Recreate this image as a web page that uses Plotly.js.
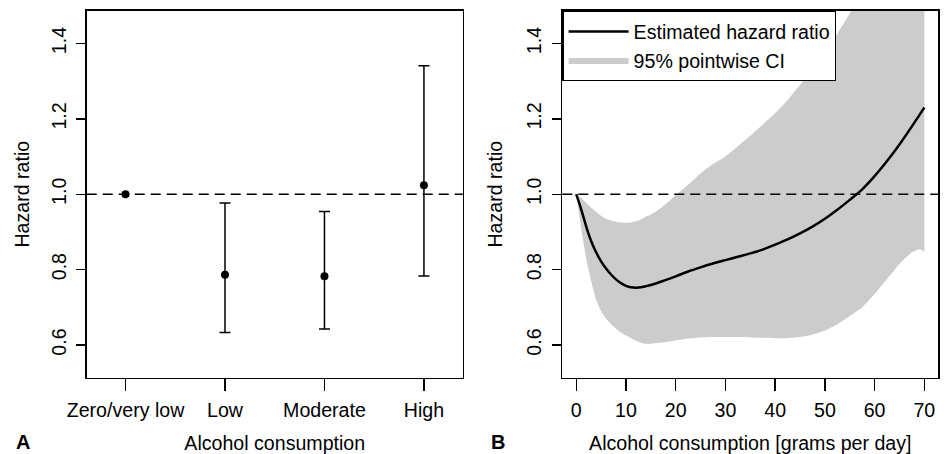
<!DOCTYPE html>
<html>
<head>
<meta charset="utf-8">
<script src="https://cdn.plot.ly/plotly-3.0.1.min.js"></script>
<style>
  html, body { margin: 0; padding: 0; background: #fff; }
  #chart { width: 949px; height: 454px; }
</style>
</head>
<body>
<div id="chart"></div>
<script>
// ---- Panel A data ----
const categories = ['Zero/very low', 'Low', 'Moderate', 'High'];
const hrCat = [1.0, 0.786, 0.782, 1.024];
const ciLowCat = [null, 0.633, 0.642, 0.783];
const ciHighCat = [null, 0.977, 0.954, 1.341];

// ---- Panel B data ----
const grams = [0, 1, 2, 3, 4, 5, 6, 7, 8, 9, 10, 11, 12, 13, 14, 15, 17.5, 20, 22.5, 25, 27.5, 30, 32.5, 35, 37.5, 40, 42.5, 45, 47.5, 50, 52.5, 55, 57.5, 60, 62.5, 65, 67.5, 69, 70];
const hrCurve = [1.0, 0.960, 0.915, 0.876, 0.846, 0.822, 0.803, 0.787, 0.774, 0.764, 0.757, 0.753, 0.752, 0.753, 0.756, 0.759, 0.770, 0.782, 0.795, 0.806, 0.816, 0.825, 0.834, 0.843, 0.853, 0.866, 0.880, 0.896, 0.914, 0.935, 0.959, 0.985, 1.013, 1.048, 1.088, 1.132, 1.180, 1.210, 1.230];
const ciUpper = [1.0, 0.990, 0.977, 0.965, 0.953, 0.943, 0.935, 0.930, 0.927, 0.925, 0.924, 0.925, 0.928, 0.933, 0.940, 0.946, 0.968, 0.997, 1.025, 1.055, 1.080, 1.100, 1.127, 1.155, 1.185, 1.215, 1.250, 1.290, 1.330, 1.375, 1.425, 1.480, 1.535, 1.590, 1.650, 1.710, 1.770, 1.805, 1.830];
const ciLower = [1.0, 0.910, 0.830, 0.770, 0.720, 0.690, 0.670, 0.655, 0.643, 0.633, 0.625, 0.618, 0.611, 0.606, 0.603, 0.603, 0.607, 0.612, 0.617, 0.620, 0.621, 0.621, 0.621, 0.620, 0.619, 0.618, 0.618, 0.621, 0.627, 0.638, 0.655, 0.677, 0.700, 0.735, 0.775, 0.815, 0.846, 0.854, 0.848];

const yTicks = [0.6, 0.8, 1.0, 1.2, 1.4];
const yTickText = ['0.6', '0.8', '1.0', '1.2', '1.4'];
const xTicksB = [0, 10, 20, 30, 40, 50, 60, 70];

const FONT = 'Liberation Sans, Arial, Helvetica, sans-serif';
const FS = 19.6;

// split reference category (no CI) from the others
const refIdx = [], ciIdx = [];
categories.forEach((c, i) => (ciLowCat[i] === null ? refIdx : ciIdx).push(i));

const traces = [
  {
    type: 'scatter', mode: 'markers', xaxis: 'x', yaxis: 'y',
    x: ciIdx.map(i => categories[i]), y: ciIdx.map(i => hrCat[i]),
    marker: { color: '#000', size: 8 },
    error_y: {
      type: 'data', symmetric: false,
      array: ciIdx.map(i => ciHighCat[i] - hrCat[i]),
      arrayminus: ciIdx.map(i => hrCat[i] - ciLowCat[i]),
      color: '#000', thickness: 1.5, width: 5.5
    },
    showlegend: false, hoverinfo: 'x+y'
  },
  {
    type: 'scatter', mode: 'markers', xaxis: 'x', yaxis: 'y',
    x: refIdx.map(i => categories[i]), y: refIdx.map(i => hrCat[i]),
    marker: { color: '#000', size: 8 },
    showlegend: false
  },
  {
    type: 'scatter', mode: 'lines', xaxis: 'x2', yaxis: 'y2',
    x: grams, y: ciLower, line: { width: 0, color: '#cccccc', shape: 'spline', smoothing: 0.6 },
    showlegend: false, hoverinfo: 'skip'
  },
  {
    type: 'scatter', mode: 'lines', xaxis: 'x2', yaxis: 'y2',
    x: grams, y: ciUpper, fill: 'tonexty', fillcolor: '#cccccc',
    line: { width: 0, color: '#cccccc', shape: 'spline', smoothing: 0.6 },
    name: '95% pointwise CI', legendrank: 2, hoverinfo: 'skip'
  },
  {
    type: 'scatter', mode: 'lines', xaxis: 'x2', yaxis: 'y2',
    x: grams, y: hrCurve, line: { width: 2.5, color: '#000', shape: 'spline', smoothing: 0.8 },
    name: 'Estimated hazard ratio', legendrank: 1
  }
];

const axisCommon = {
  showline: true, mirror: true, linecolor: '#000', linewidth: 1.3,
  ticks: 'outside', tickcolor: '#000', tickwidth: 1.3,
  showgrid: false, zeroline: false,
  tickfont: { family: FONT, size: FS, color: '#000' }
};

const layout = {
  width: 949, height: 454,
  margin: { l: 0, r: 0, t: 0, b: 0 },
  paper_bgcolor: '#fff', plot_bgcolor: '#fff',
  font: { family: FONT, size: FS, color: '#000' },
  xaxis: Object.assign({}, axisCommon, {
    domain: [0.0914, 0.4876], anchor: 'y',
    type: 'category', categoryorder: 'array', categoryarray: categories,
    range: [-0.39, 3.39], ticklen: 12, ticklabelstandoff: 2,
    title: { text: 'Alcohol consumption', font: { family: FONT, size: FS }, standoff: 18 }
  }),
  yaxis: Object.assign({}, axisCommon, {
    domain: [0.168, 0.9764], anchor: 'x',
    range: [0.513, 1.487], tickvals: yTicks, ticktext: yTickText, tickangle: -90,
    ticklen: 9, ticklabelstandoff: 3,
    title: { text: 'Hazard ratio', font: { family: FONT, size: FS }, standoff: 12 }
  }),
  xaxis2: Object.assign({}, axisCommon, {
    domain: [0.5925, 0.9887], anchor: 'y2',
    range: [-2.8, 72.8], tickvals: xTicksB, ticklen: 12, ticklabelstandoff: 2,
    title: { text: 'Alcohol consumption [grams per day]', font: { family: FONT, size: FS }, standoff: 18 }
  }),
  yaxis2: Object.assign({}, axisCommon, {
    domain: [0.168, 0.9764], anchor: 'x2',
    range: [0.513, 1.487], tickvals: yTicks, ticktext: yTickText, tickangle: -90,
    ticklen: 9, ticklabelstandoff: 3,
    title: { text: 'Hazard ratio', font: { family: FONT, size: FS }, standoff: 15 }
  }),
  shapes: [
    { type: 'line', xref: 'x domain', yref: 'y', x0: 0, x1: 1, y0: 1, y1: 1,
      line: { color: '#000', width: 1.5, dash: '10px,6px' } },
    { type: 'line', xref: 'x2 domain', yref: 'y2', x0: 0, x1: 1, y0: 1, y1: 1,
      line: { color: '#000', width: 1.5, dash: '10px,6px' } }
  ],
  annotations: [
    { text: '<b>A</b>', xref: 'paper', yref: 'paper', x: 22.5 / 949, y: 0,
      xanchor: 'center', yanchor: 'bottom', borderpad: 0, showarrow: false,
      font: { family: FONT, size: 20, color: '#000' } },
    { text: '<b>B</b>', xref: 'paper', yref: 'paper', x: 497.5 / 949, y: 0,
      xanchor: 'center', yanchor: 'bottom', borderpad: 0, showarrow: false,
      font: { family: FONT, size: 20, color: '#000' } }
  ],
  legend: {
    x: 0.5925, y: 0.9758, xanchor: 'left', yanchor: 'top',
    bgcolor: '#fff', bordercolor: '#000', borderwidth: 1.3,
    font: { family: FONT, size: FS, color: '#000' },
    itemwidth: 60, traceorder: 'normal'
  },
  showlegend: true
};

Plotly.newPlot('chart', traces, layout, { staticPlot: true });
</script>
</body>
</html>
